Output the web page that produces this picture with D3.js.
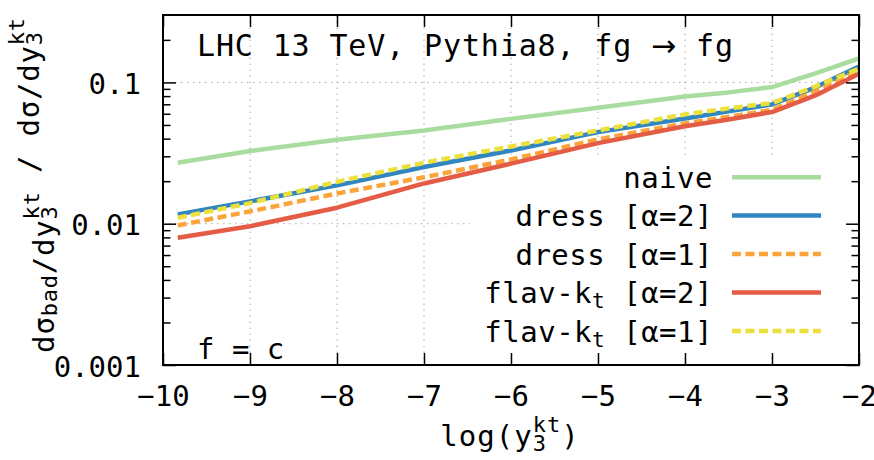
<!DOCTYPE html>
<html><head><meta charset="utf-8">
<script src="https://cdn.jsdelivr.net/npm/d3@7"></script>
<style>
body{margin:0;background:#fff;}
svg text{font-family:"DejaVu Sans Mono", monospace; fill:#000;}
</style></head><body>
<svg id="c" width="874" height="460"></svg>
<script>
// ---- data ----
const xVals  = [-9.83, -9, -8, -7, -6, -5, -4, -3.5, -3, -2.5, -2];
const naive  = [0.0270, 0.0327, 0.0393, 0.0457, 0.0552, 0.0661, 0.0796, 0.0850, 0.0927, 0.116, 0.148];
const dress2 = [0.01164, 0.01439, 0.01867, 0.0252, 0.0330, 0.0445, 0.0556, 0.0624, 0.0699, 0.0922, 0.1297];
const dress1 = [0.00973, 0.01222, 0.01637, 0.0213, 0.0285, 0.0395, 0.0513, 0.0571, 0.0639, 0.0863, 0.1216];
const flav2  = [0.00796, 0.00960, 0.01298, 0.01927, 0.0266, 0.0372, 0.0489, 0.0547, 0.0617, 0.0809, 0.1153];
const flav1  = [0.01101, 0.01399, 0.0198, 0.0270, 0.0352, 0.0457, 0.0594, 0.0655, 0.0714, 0.0937, 0.125];
const seriesLabels = ["naive", "dress [α=2]", "dress [α=1]", "flav-k_t [α=2]", "flav-k_t [α=1]"];
const xTicks = [-10, -9, -8, -7, -6, -5, -4, -3, -2];
const yTicks = [0.001, 0.01, 0.1];
const yTickLabels = ["0.001", "0.01", "0.1"];
const titleParts = ["LHC 13 TeV, Pythia8, fg ", "→", " fg"];
const flavourText = "f = c";

// ---- styles ----
const series = [
  {label: seriesLabels[0], values: naive,  color: "#a9dc9f", dash: null},
  {label: seriesLabels[1], values: dress2, color: "#2f86c0", dash: null},
  {label: seriesLabels[2], values: dress1, color: "#fca43c", dash: "9,4.5"},
  {label: seriesLabels[3], values: flav2,  color: "#e45c45", dash: null},
  {label: seriesLabels[4], values: flav1,  color: "#ebe03c", dash: "9,4.5"}
];
const drawOrder = [0, 1, 2, 3, 4];

const L = 163, R = 859, T = 15, B = 365;
const FS = 29;
const svg = d3.select("#c");
const x = d3.scaleLinear().domain([-10, -2]).range([L, R]);
const y = d3.scaleLog().domain([0.001, 0.3]).range([B, T]);

// grid
const grid = svg.append("g").attr("stroke", "#a8a8a8").attr("stroke-width", 1).attr("stroke-dasharray", "1.5,4.5");
xTicks.slice(1, -1).forEach(v => grid.append("line").attr("x1", x(v)).attr("x2", x(v)).attr("y1", B).attr("y2", T));
yTicks.slice(1).forEach(v => grid.append("line").attr("x1", L).attr("x2", R).attr("y1", y(v)).attr("y2", y(v)));

// key background
svg.append("rect").attr("x", 470).attr("y", 158).attr("width", R - 472).attr("height", 195).attr("fill", "#fff");

// curves
svg.append("clipPath").attr("id", "pc").append("rect").attr("x", L).attr("y", T).attr("width", R - L).attr("height", B - T);
const line = d3.line().x((d, i) => x(xVals[i])).y(d => y(d));
const cg = svg.append("g").attr("clip-path", "url(#pc)");
drawOrder.forEach(k => {
  const s = series[k];
  cg.append("path").datum(s.values).attr("d", line).attr("fill", "none")
    .attr("stroke", s.color).attr("stroke-width", 4.5)
    .attr("stroke-dasharray", s.dash).attr("stroke-linejoin", "round");
});

// axes (inward ticks, mirrored)
function styleAxis(g) { g.select(".domain").remove(); g.selectAll("line").attr("stroke", "#000").attr("stroke-width", 1.5); }
const minor = [];
[0.001, 0.01, 0.1].forEach(d => { for (let m = 2; m <= 9; m++) { const v = d * m; if (v <= 0.3) minor.push(v); } });

svg.append("g").attr("transform", `translate(0,${B})`)
  .call(d3.axisBottom(x).tickValues(xTicks).tickSize(-12).tickFormat(d => "−" + Math.abs(d)).tickPadding(22))
  .call(styleAxis)
  .call(g => g.selectAll("text").attr("font-size", FS).attr("font-family", "DejaVu Sans Mono").attr("dy", "0.65em"));
svg.append("g").attr("transform", `translate(0,${T})`)
  .call(d3.axisTop(x).tickValues(xTicks).tickSize(-12).tickFormat(""))
  .call(styleAxis);
svg.append("g").attr("transform", `translate(${L},0)`)
  .call(d3.axisLeft(y).tickValues(yTicks).tickSize(-13).tickFormat((d, i) => yTickLabels[i]).tickPadding(22))
  .call(styleAxis)
  .call(g => g.selectAll("text").attr("font-size", FS).attr("font-family", "DejaVu Sans Mono").attr("dy", "0.38em"));
svg.append("g").attr("transform", `translate(${L},0)`)
  .call(d3.axisLeft(y).tickValues(minor).tickSize(-7.5).tickFormat(""))
  .call(styleAxis);
svg.append("g").attr("transform", `translate(${R},0)`)
  .call(d3.axisRight(y).tickValues(yTicks).tickSize(-13).tickFormat(""))
  .call(styleAxis);
svg.append("g").attr("transform", `translate(${R},0)`)
  .call(d3.axisRight(y).tickValues(minor).tickSize(-7.5).tickFormat(""))
  .call(styleAxis);

// border
svg.append("rect").attr("x", L).attr("y", T).attr("width", R - L).attr("height", B - T)
  .attr("fill", "none").attr("stroke", "#000").attr("stroke-width", 2);

// title and flavour label
const tt = svg.append("text").attr("x", 197).attr("y", 56).attr("font-size", 30)
  .attr("textLength", 536).attr("lengthAdjust", "spacing");
tt.append("tspan").text(titleParts[0]);
tt.append("tspan").attr("font-family", "DejaVu Sans").text(titleParts[1]);
tt.append("tspan").text(titleParts[2]);
svg.append("text").attr("x", 197).attr("y", 359).attr("font-size", FS).text(flavourText);

// legend
const rowY = [177.3, 215.5, 254, 292.5, 331];
series.forEach((s, i) => {
  const t = svg.append("text").attr("x", 713).attr("y", rowY[i] + 10.5).attr("text-anchor", "end")
    .attr("font-size", FS).attr("letter-spacing", 0.5);
  const parts = s.label.split("_");
  t.append("tspan").text(parts[0]);
  if (parts.length > 1) {
    t.append("tspan").attr("font-size", 21).attr("dy", 5).text(parts[1].charAt(0));
    t.append("tspan").attr("dy", -5).text(parts[1].slice(1));
  }
  svg.append("line").attr("x1", 732).attr("x2", 821).attr("y1", rowY[i]).attr("y2", rowY[i])
    .attr("stroke", s.color).attr("stroke-width", 4.5).attr("stroke-dasharray", s.dash);
});

// y axis label
const SS = 22, SW = SS * 0.602;
const yl = svg.append("text").attr("transform", "translate(54,185) rotate(-90)").attr("text-anchor", "middle")
  .attr("font-size", FS).attr("letter-spacing", 0.8);
function dyk(t) {
  t.append("tspan").text("dy");
  t.append("tspan").attr("font-size", SS).attr("dy", 3).text("3");
  t.append("tspan").attr("font-size", SS).attr("dx", -(SW + 0.8)).attr("dy", -18).text("kt");
  t.append("tspan").attr("dy", 15).text("");
}
yl.append("tspan").text("dσ");
yl.append("tspan").attr("font-size", SS).attr("dy", 3).text("bad");
yl.append("tspan").attr("dy", -3).text("/");
dyk(yl);
yl.append("tspan").text(" / dσ/");
dyk(yl);

// x axis label
const xl = svg.append("text").attr("x", 510).attr("y", 446).attr("text-anchor", "middle")
  .attr("font-size", FS).attr("letter-spacing", 1);
xl.append("tspan").text("log(y");
xl.append("tspan").attr("font-size", SS).attr("dy", 5).text("3");
xl.append("tspan").attr("font-size", SS).attr("dx", -(SW + 1)).attr("dy", -19).text("kt");
xl.append("tspan").attr("dy", 14).text(")");
</script>
</body></html>
